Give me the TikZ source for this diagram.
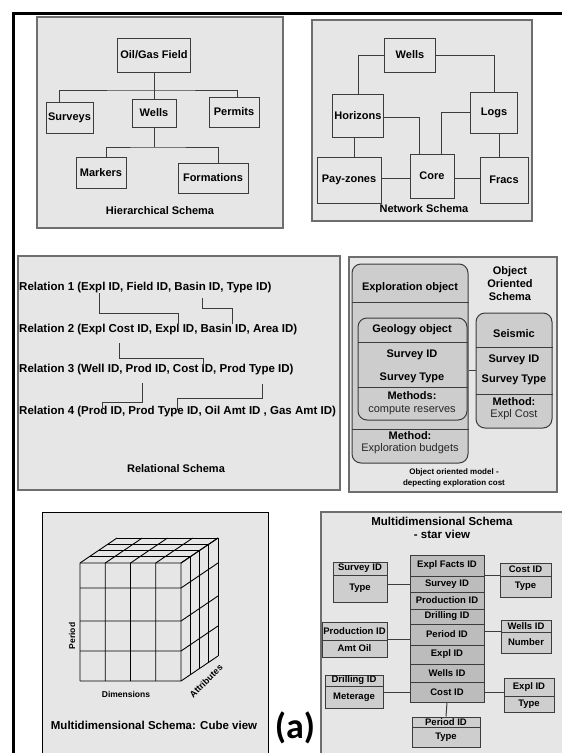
\documentclass[tikz,border=0pt]{standalone}
\usepackage{fontspec}
\setmainfont{Liberation Sans}
\newfontfamily\calfont{Carlito}
\newcommand\fs[2]{\fontsize{#1}{#2}\selectfont}
\definecolor{panelbg}{RGB}{230,230,230}
\definecolor{panelline}{RGB}{110,110,110}
\definecolor{boxline}{RGB}{60,60,60}
\definecolor{objfill}{RGB}{205,205,205}
\definecolor{factfill}{RGB}{188,188,188}
\definecolor{dimfill}{RGB}{206,206,206}

\begin{document}
\begin{tikzpicture}[x=1pt,y=-1pt,
  panel/.style={draw=panelline,fill=panelbg,line width=1.5pt},
  hbox/.style={draw=boxline,fill=panelbg,line width=1pt,inner sep=0pt,font=\bfseries\fs{11}{13}},
  txt/.style={inner sep=0pt,font=\bfseries\fs{11}{13}},
  plain/.style={inner sep=0pt,font=\fs{11}{13},text=black!85},
  link/.style={draw=boxline,line width=1pt},
  obj/.style={draw=boxline,fill=objfill,line width=1pt,rounded corners=9pt,inner sep=0pt},
  fact/.style={draw=boxline,fill=factfill,line width=1pt,inner sep=0pt,minimum width=74pt,font=\bfseries\fs{9.5}{11}},
  dim/.style={draw=boxline,fill=dimfill,line width=1pt,inner sep=0pt,font=\bfseries\fs{9.5}{11}}]

\useasboundingbox (0,0) rectangle (562,753);
\fill[white] (0,0) rectangle (562,753);

% outer frame
\draw[line width=3pt] (13,753) -- (13,13) -- (562,13);

% panels
\draw[panel] (37,17) rectangle (283,228);
\draw[panel] (312,20) rectangle (532,221);
\draw[panel] (18,256) rectangle (340,490);
\draw[panel] (349,257) rectangle (557,492);
\draw[draw=black,fill=panelbg,line width=0.8pt] (42,512) rectangle (268,760);
\draw[panel] (321,512) rectangle (565,760);

% hierarchical schema
\node[hbox,minimum width=73pt,minimum height=34pt] (oil) at (154,55) {Oil/Gas Field};
\node[hbox,minimum width=47pt,minimum height=31pt] (surveys) at (69.5,117.5) {Surveys};
\node[hbox,minimum width=44pt,minimum height=28pt] (wells) at (154,113) {Wells};
\node[hbox,minimum width=50pt,minimum height=30pt] (permits) at (234,112) {Permits};
\node[hbox,minimum width=50pt,minimum height=31pt] (markers) at (101,172.5) {Markers};
\node[hbox,minimum width=70pt,minimum height=30pt] (formations) at (213,178) {Formations};
\coordinate (bus1) at (154,90);
\coordinate (bus2) at (154,147);
\draw[link] (oil.south) -- (wells.north);
\draw[link] ([xshift=-10pt]surveys.north) |- (bus1) -| ([xshift=3pt]permits.north);
\draw[link] (wells.south) -- (bus2);
\draw[link] ([xshift=5pt]markers.north) |- (bus2) -| ([xshift=5pt]formations.north);
\node[txt] (hiertitle) at (160,211) {Hierarchical Schema};

% network schema
\node[hbox,minimum width=51pt,minimum height=34pt] (nwells) at (410,55) {Wells};
\node[hbox,minimum width=51pt,minimum height=43pt] (horizons) at (358,115.5) {Horizons};
\node[hbox,minimum width=47pt,minimum height=41pt] (logs) at (494,112.5) {Logs};
\node[hbox,minimum width=64pt,minimum height=46pt] (payzones) at (349,180) {Pay-zones};
\node[hbox,minimum width=44pt,minimum height=44pt] (core) at (432,176) {Core};
\node[hbox,minimum width=48pt,minimum height=46pt] (fracs) at (504,180) {Fracs};
\draw[link] (nwells.west) -| (horizons.north);
\draw[link] (nwells.east) -| (logs.north);
\draw[link] ([yshift=-2pt]horizons.east) -| ([xshift=-13pt]core.north);
\draw[link] (logs.west) -| ([xshift=9pt]core.north);
\draw[link] ([xshift=-4pt]horizons.south) -- ([xshift=-4pt]horizons.south |- payzones.north);
\draw[link] ([xshift=5pt]logs.south) -- ([xshift=5pt]logs.south |- fracs.north);
\draw[link] ([yshift=2pt]payzones.east) -- ([yshift=2pt]payzones.east -| core.west);
\draw[link] ([yshift=2pt]fracs.west -| core.east) -- ([yshift=2pt]fracs.west);
\node[txt] (nettitle) at (424,209) {Network Schema};

% relational schema
\begin{scope}[txt/.append style={anchor=west,font=\bfseries\fs{11.5}{13}}]
\node[txt] (rel1) at (19,288) {Relation 1 (Expl ID, Field ID, Basin ID, Type ID)};
\node[txt] (rel2) at (19,330) {Relation 2 (Expl Cost ID, Expl ID, Basin ID, Area ID)};
\node[txt] (rel3) at (19,370) {Relation 3 (Well ID, Prod ID, Cost ID, Prod Type ID)};
\node[txt] (rel4) at (19,412) {Relation 4 (Prod ID, Prod Type ID, Oil Amt ID , Gas Amt ID)};
\end{scope}
\coordinate (k1) at (99,293);   \coordinate (k2) at (178,324);
\coordinate (k3) at (202,298);  \coordinate (k4) at (232,324);
\coordinate (k5) at (119,343);  \coordinate (k6) at (203,367);
\coordinate (k7) at (142,383);  \coordinate (k8) at (102,410);
\coordinate (k9) at (262,384);  \coordinate (k10) at (177,410);
\draw[link] (k1) -- ++(0,20) -| (k2);
\draw[link] (k3) -- ++(0,10) -| (k4);
\draw[link] (k5) -- ++(0,15) -| (k6);
\draw[link] (k7) -- ++(0,19) -| (k8);
\draw[link] (k9) -- ++(0,14) -| (k10);
\node[txt] (reltitle) at (176,469) {Relational Schema};

% object oriented schema
\node[obj,minimum width=116pt,minimum height=199pt] (explobj) at (410,363.5) {};
\node[obj,minimum width=109pt,minimum height=102pt] (geoobj) at (412.5,369) {};
\node[obj,minimum width=76pt,minimum height=115pt] (seismic) at (514,370.5) {};
\draw[link] (explobj.west |- 0,302) -- (explobj.east |- 0,302);
\draw[link] (explobj.west |- 0,429) -- (explobj.east |- 0,429);
\draw[link] (geoobj.west |- 0,342) -- (geoobj.east |- 0,342);
\draw[link] (geoobj.west |- 0,387) -- (geoobj.east |- 0,387);
\draw[link] (seismic.west |- 0,347) -- (seismic.east |- 0,347);
\draw[link] (seismic.west |- 0,394) -- (seismic.east |- 0,394);
\draw[link] (seismic.west -| explobj.east) -- (seismic.west);
\node[txt] (exhead) at (410,288) {Exploration object};
\node[txt] (exmeth) at (410,436) {Method:};
\node[plain] (exbud) at (410,449) {Exploration budgets};
\node[txt] (geohead) at (412,330) {Geology object};
\node[txt] (geoid) at (412,355) {Survey ID};
\node[txt] (geotype) at (412,378) {Survey Type};
\node[txt] (geometh) at (412,396) {Methods:};
\node[plain] (geocomp) at (412,410) {compute reserves};
\node[txt] (seishead) at (514,334) {Seismic};
\node[txt] (seisid) at (514,360) {Survey ID};
\node[txt] (seistype) at (514,380) {Survey Type};
\node[txt] (seismeth) at (514,402) {Method:};
\node[plain] (seiscost) at (514,415) {Expl Cost};
\node[txt,align=center] (ootitle) at (510,284) {Object\\Oriented\\Schema};
\node[txt,align=center,font=\bfseries\fs{8}{10.5}] (oocap) at (454,478) {Object oriented model -\\depecting exploration cost};

% cube view
\begin{scope}[line width=0.9pt]
\foreach \cx in {80,105.25,130.5,155.75,181}
  \draw (\cx,563) -- (\cx,681) (\cx,563) -- ++(37,-25);
\foreach \cy in {563,588,621,651,681}
  \draw (80,\cy) -- (181,\cy) -- ++(37,-25);
\foreach \k in {1,...,4}
  \draw (80+9.25*\k,563-6.25*\k) -- ++(101,0)
        (181+9.25*\k,563-6.25*\k) -- ++(0,118);
\end{scope}
\node[txt,font=\bfseries\fs{8.5}{10},rotate=90] (period) at (72,636) {Period};
\node[txt,font=\bfseries\fs{8.5}{10}] (dims) at (126,694) {Dimensions};
\node[txt,font=\bfseries\fs{9}{10},rotate=45] (attrs) at (206,681) {Attributes};
\node[txt,font=\bfseries\fs{11.5}{13}] (cubetitle) at (154,725) {Multidimensional Schema: Cube view};

% star view
\node[txt,align=center,font=\bfseries\fs{11.5}{12.5}] (startitle) at (442,528) {Multidimensional Schema\\- star view};
\node[fact,minimum height=21pt] (fexpl) at (447,565.5) {Expl Facts ID};
\node[fact,minimum height=16pt] (fsurvey) at (447,584) {Survey ID};
\node[fact,minimum height=17pt] (fprod) at (447,600.5) {Production ID};
\node[fact,minimum height=15pt] (fdrill) at (447,616.5) {Drilling ID};
\node[fact,minimum height=21pt] (fperiod) at (447,634.5) {Period ID};
\node[fact,minimum height=19pt] (fexplid) at (447,654.5) {Expl ID};
\node[fact,minimum height=18pt] (fwells) at (447,673) {Wells ID};
\node[fact,minimum height=20pt] (fcost) at (447,692) {Cost ID};

\node[dim,minimum width=54pt,minimum height=13pt] (srvhead) at (360,568.5) {Survey ID};
\node[dim,minimum width=54pt,minimum height=27pt] (srvbody) at (360,588.5) {Type};
\node[dim,minimum width=51pt,minimum height=13pt] (costhead) at (525.5,569.5) {Cost ID};
\node[dim,minimum width=51pt,minimum height=21pt] (costbody) at (525.5,586.5) {Type};
\node[dim,minimum width=65pt,minimum height=18pt] (prodhead) at (354.5,631) {Production ID};
\node[dim,minimum width=65pt,minimum height=17pt] (prodbody) at (354.5,648.5) {Amt Oil};
\node[dim,minimum width=50pt,minimum height=12pt] (wellhead) at (526,626) {Wells ID};
\node[dim,minimum width=50pt,minimum height=21pt] (wellbody) at (526,642.5) {Number};
\node[dim,minimum width=58pt,minimum height=11pt] (drillhead) at (354,680.5) {Drilling ID};
\node[dim,minimum width=58pt,minimum height=22pt] (drillbody) at (354,697) {Meterage};
\node[dim,minimum width=50pt,minimum height=18pt] (explhead) at (529,687) {Expl ID};
\node[dim,minimum width=50pt,minimum height=16pt] (explbody) at (529,704) {Type};
\node[dim,minimum width=68pt,minimum height=10pt] (perhead) at (446,722) {Period ID};
\node[dim,minimum width=68pt,minimum height=20pt] (perbody) at (446,737) {Type};

\draw[link] (fsurvey.west -| srvbody.east) -- (fsurvey.west);
\draw[link] (fsurvey.north east) -- (fsurvey.north east -| costbody.west);
\draw[link] (prodbody.north east) -- (prodbody.north east -| fperiod.west);
\draw[link] (fperiod.east |- wellbody.north west) -- (wellbody.north west);
\draw[link] (fcost.west -| drillbody.east) -- (fcost.west);
\draw[link] (fcost.east) -- (fcost.east -| explhead.west);
\draw[link] (fcost.south) -- (perhead.north);

\node[inner sep=0pt,font=\calfont\bfseries\fs{36}{38}] (tag) at (295,728) {(a)};
\end{tikzpicture}
\end{document}
